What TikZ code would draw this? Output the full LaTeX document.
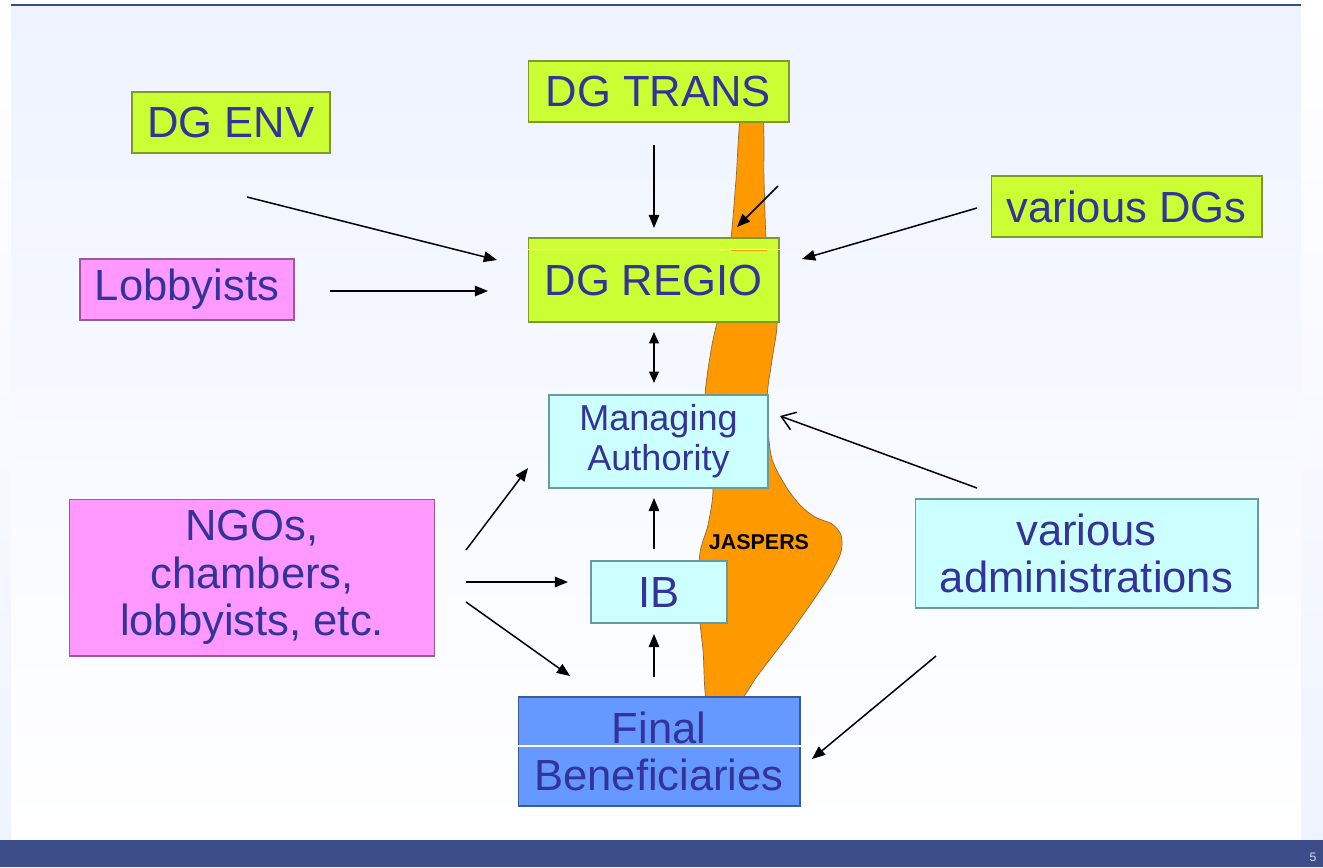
\documentclass[tikz,border=0pt]{standalone}
\usepackage{fontspec}
\setmainfont{Liberation Sans}
\usetikzlibrary{arrows.meta}
\definecolor{txtblue}{HTML}{333399}
\definecolor{lgreen}{HTML}{CCFF33}
\definecolor{bgreen}{HTML}{7F9A2A}
\definecolor{lpink}{HTML}{FF99FF}
\definecolor{bpink}{HTML}{9A5A9A}
\definecolor{lcyan}{HTML}{CCFFFF}
\definecolor{bcyan}{HTML}{6A9A9A}
\definecolor{mblue}{HTML}{6699FF}
\definecolor{bblue}{HTML}{3A5A9A}
\definecolor{jorange}{HTML}{FF9900}
\definecolor{jborder}{HTML}{8A6A3A}
\definecolor{slidebg}{HTML}{EEF3FF}
\definecolor{barblue}{HTML}{3C4C88}
\tikzset{
  box/.style={rectangle, draw, line width=0.6pt, inner sep=0pt, align=center, text=txtblue,
              font=\fontsize{24.8}{27.2}\selectfont},
  greenbox/.style={box, fill=lgreen, draw=bgreen},
  pinkbox/.style={box, fill=lpink, draw=bpink},
  cyanbox/.style={box, fill=lcyan, draw=bcyan},
  bluebox/.style={box, fill=mblue, draw=bblue},
  arr/.style={line width=0.85pt, -{Triangle[length=7.5pt,width=6pt]}},
  darr/.style={line width=0.85pt, {Triangle[length=6.5pt,width=5.5pt]}-{Triangle[length=6.5pt,width=5.5pt]}},
  openarr/.style={line width=0.85pt, -{Straight Barb[length=7.5pt,width=10.5pt]}}
}
\begin{document}
\begin{tikzpicture}[x=0.02cm, y=-0.02cm]
\useasboundingbox (0,0) rectangle (1323,867);
% backgrounds
\shade[top color=white, bottom color=slidebg] (0,0) rectangle (1323,867);
\shade[top color=slidebg, bottom color=white] (11,6) rectangle (1301,840);
\fill[barblue] (11,3.5) rectangle (1301,6);
\fill[barblue] (0,840) rectangle (1323,867);
\node[text=white!80!barblue, font=\fontsize{7}{8}\selectfont] (pagenum) at (1313,857) {5};

% JASPERS shape
\filldraw[fill=jorange, draw=jborder, line width=0.4pt] plot[smooth cycle, tension=0.5] coordinates {
 (742,110) (736,180) (731,238) (722,300) (712,345) (705,395) (706,440) (713,488)
 (708,525) (700,553) (698,600) (703,650) (708,705) (736,705)
 (758,675) (790,633) (810,605) (830,575) (841,552) (841,535) (832,524) (815,517)
 (800,505) (785,485) (771,455) (767,400) (772,360) (777,322) (770,280) (766,238)
 (764,180) (762,110)};
\node[font=\bfseries\fontsize{12.2}{14}\selectfont] (jaspers) at (759,542) {JASPERS};

% boxes
\node[greenbox, minimum width=3.96cm, minimum height=1.22cm] (env) at (231,122.5) {DG ENV};
\node[greenbox, minimum width=5.22cm, minimum height=1.22cm] (trans) at (658.5,91.5) {DG TRANS};
\node[greenbox, minimum width=5.42cm, minimum height=1.22cm] (dgs) at (1126.5,206.5) {various DGs};
\node[greenbox, minimum width=5.02cm, minimum height=1.68cm] (regio) at (653.5,280) {DG REGIO};
\draw[white, line width=0.5pt] (regio.west |- 0,249) -- (regio.east |- 0,249);
\draw[jorange, line width=0.6pt] (731,250.5) -- (767,250.5);
\node[pinkbox, minimum width=4.28cm, minimum height=1.22cm] (lob) at (187,289.5) {Lobbyists};
\node[cyanbox, minimum width=4.38cm, minimum height=1.86cm, font=\fontsize{20.5}{22.7}\selectfont] (ma) at (658.5,441.5) {Managing\\Authority};
\node[pinkbox, minimum width=7.32cm, minimum height=3.14cm] (ngo) at (252,577.5) {NGOs,\\chambers,\\lobbyists, etc.};
\node[cyanbox, minimum width=2.72cm, minimum height=1.24cm] (ib) at (659,592) {IB};
\node[cyanbox, minimum width=6.86cm, minimum height=2.18cm] (adm) at (1086.5,553.5) {various\\administrations};
\node[bluebox, minimum width=5.64cm, minimum height=2.18cm] (fb) at (659,751.5) {Final\\Beneficiaries};
\draw[white, line width=0.6pt] (fb.west |- 0,746) -- (fb.east |- 0,746);

% connector end points
\coordinate (a1s) at (247,197);  \coordinate (a1e) at (497,260);
\coordinate (a2s) at (330,291);  \coordinate (a2e) at (488,291);
\coordinate (a3s) at (654,145);  \coordinate (a3e) at (654,228);
\coordinate (a4s) at (778,186);  \coordinate (a4e) at (737,227);
\coordinate (a5s) at (977,208);  \coordinate (a5e) at (802,259);
\coordinate (a6s) at (654,332);  \coordinate (a6e) at (654,383);
\coordinate (a7s) at (977,488);  \coordinate (a7e) at (780,416);
\coordinate (a8s) at (466,550);  \coordinate (a8e) at (528,468);
\coordinate (a9s) at (466,582);  \coordinate (a9e) at (568,582);
\coordinate (a10s) at (466,602); \coordinate (a10e) at (570,676);
\coordinate (a11s) at (654,549); \coordinate (a11e) at (654,498);
\coordinate (a12s) at (654,677); \coordinate (a12e) at (654,634);
\coordinate (a13s) at (936,656); \coordinate (a13e) at (812,759);

\draw[arr] (a1s) -- (a1e);
\draw[arr] (a2s) -- (a2e);
\draw[arr] (a3s) -- (a3e);
\draw[arr] (a4s) -- (a4e);
\draw[arr] (a5s) -- (a5e);
\draw[darr] (a6s) -- (a6e);
\draw[openarr] (a7s) -- (a7e);
\draw[arr] (a8s) -- (a8e);
\draw[arr] (a9s) -- (a9e);
\draw[arr] (a10s) -- (a10e);
\draw[arr] (a11s) -- (a11e);
\draw[arr] (a12s) -- (a12e);
\draw[arr] (a13s) -- (a13e);
\end{tikzpicture}
\end{document}
